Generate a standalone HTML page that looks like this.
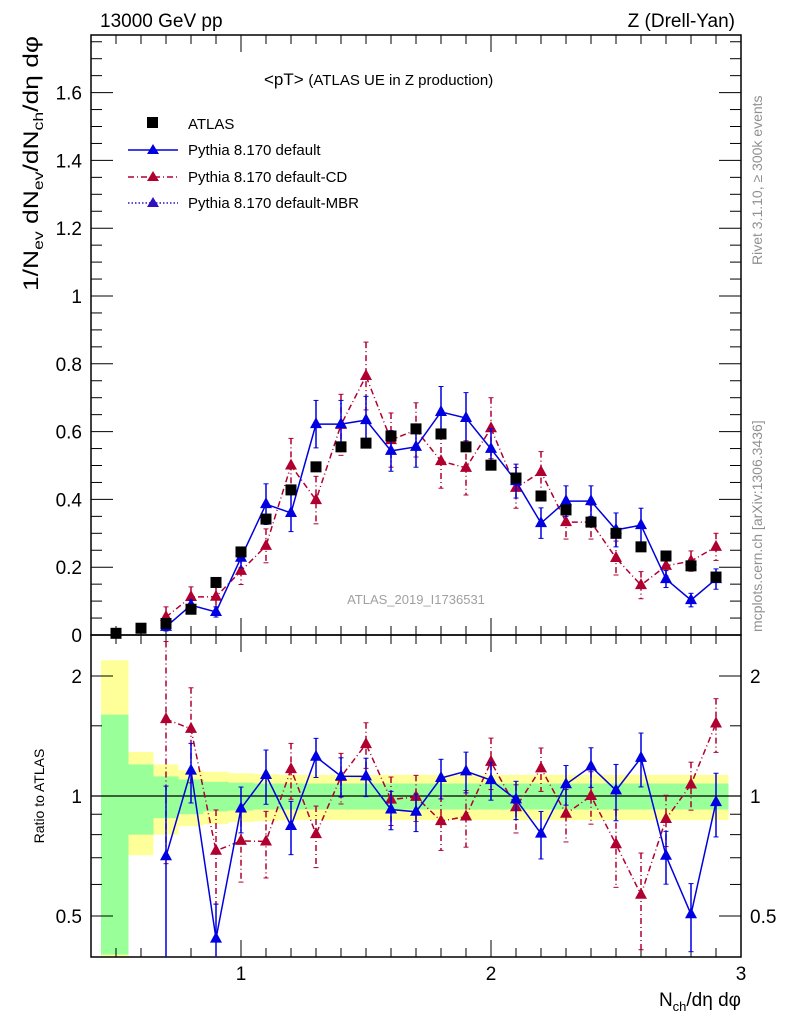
<!DOCTYPE html>
<html><head><meta charset="utf-8"><style>
html,body{margin:0;padding:0;background:#fff;}
svg{display:block;font-family:"Liberation Sans","DejaVu Sans",sans-serif;}
</style></head><body>
<svg id="chart" width="786" height="1024" xmlns="http://www.w3.org/2000/svg">
<g id="bands"></g>
<g id="axes"></g>
<g id="marks"></g>
<text x="100" y="27" font-size="19">13000 GeV pp</text>
<text x="735" y="27" font-size="19" text-anchor="end">Z (Drell-Yan)</text>
<text x="264" y="85" font-size="17">&lt;pT&gt; <tspan font-size="15">(ATLAS UE in Z production)</tspan></text>
<text x="416" y="604" font-size="13" fill="#a0a0a0" text-anchor="middle">ATLAS_2019_I1736531</text>
<text transform="translate(762,265) rotate(-90)" font-size="14" fill="#909090">Rivet 3.1.10, ≥ 300k events</text>
<text transform="translate(762,632) rotate(-90)" font-size="14" fill="#909090">mcplots.cern.ch [arXiv:1306.3436]</text>
<text transform="translate(38,36) rotate(-90)" font-size="21" text-anchor="end" textLength="255" lengthAdjust="spacingAndGlyphs">1/N<tspan font-size="14" dy="5">ev</tspan><tspan dy="-5"> dN</tspan><tspan font-size="14" dy="5">ev</tspan><tspan dy="-5">/dN</tspan><tspan font-size="14" dy="5">ch</tspan><tspan dy="-5">/dη dφ</tspan></text>
<text transform="translate(44,796) rotate(-90)" font-size="14" text-anchor="middle">Ratio to ATLAS</text>
<text x="741" y="1006" font-size="19" text-anchor="end">N<tspan font-size="13" dy="5">ch</tspan><tspan dy="-5">/dη dφ</tspan></text>
<g>
<rect x="147" y="117" width="11" height="11" fill="#000"/>
<text x="188" y="129" font-size="15">ATLAS</text>
<line x1="128" y1="150" x2="178" y2="150" stroke="#0000e0" stroke-width="1.5"/>
<polygon points="153,144 147,154 159,154" fill="#0000e0"/>
<text x="188" y="155" font-size="15">Pythia 8.170 default</text>
<line x1="128" y1="177" x2="178" y2="177" stroke="#b00030" stroke-width="1.5" stroke-dasharray="6,3,1,3"/>
<polygon points="153,171 147,181 159,181" fill="#b00030"/>
<text x="188" y="182" font-size="15">Pythia 8.170 default-CD</text>
<line x1="128" y1="203" x2="178" y2="203" stroke="#3010c0" stroke-width="1.5" stroke-dasharray="1.5,2"/>
<polygon points="153,197 147,207 159,207" fill="#3010c0"/>
<text x="188" y="208" font-size="15">Pythia 8.170 default-MBR</text>
</g>
</svg>
<script>
const xCats=[0.5,0.6,0.7,0.8,0.9,1.0,1.1,1.2,1.3,1.4,1.5,1.6,1.7,1.8,1.9,2.0,2.1,2.2,2.3,2.4,2.5,2.6,2.7,2.8,2.9];
const atlasVals=[0.005,0.02,0.034,0.076,0.155,0.245,0.342,0.428,0.496,0.555,0.566,0.587,0.608,0.593,0.555,0.501,0.463,0.41,0.369,0.333,0.3,0.26,0.233,0.204,0.171];
const atlasStatRel=[0.6,0.2,0.12,0.1,0.085,0.08,0.075,0.075,0.075,0.075,0.075,0.075,0.075,0.075,0.075,0.075,0.075,0.075,0.075,0.075,0.075,0.075,0.075,0.075,0.075];
const atlasTotRel=[1.19,0.29,0.2,0.16,0.15,0.14,0.135,0.13,0.13,0.13,0.13,0.13,0.13,0.13,0.13,0.13,0.13,0.13,0.13,0.13,0.13,0.13,0.13,0.13,0.13];
const mcCats=[0.7,0.8,0.9,1.0,1.1,1.2,1.3,1.4,1.5,1.6,1.7,1.8,1.9,2.0,2.1,2.2,2.3,2.4,2.5,2.6,2.7,2.8,2.9];
const defVals=[0.024,0.088,0.068,0.228,0.386,0.36,0.622,0.622,0.634,0.543,0.555,0.658,0.64,0.549,0.454,0.33,0.395,0.395,0.31,0.324,0.165,0.103,0.165];
const defErrs=[0.012,0.015,0.015,0.03,0.06,0.055,0.07,0.07,0.07,0.06,0.06,0.075,0.075,0.06,0.05,0.045,0.045,0.045,0.05,0.05,0.025,0.02,0.03];
const cdVals=[0.053,0.112,0.113,0.189,0.263,0.5,0.398,0.62,0.764,0.575,0.605,0.513,0.493,0.61,0.434,0.481,0.333,0.333,0.227,0.147,0.204,0.218,0.26];
const cdErrs=[0.03,0.03,0.03,0.04,0.05,0.08,0.07,0.09,0.1,0.08,0.08,0.08,0.08,0.09,0.06,0.06,0.05,0.05,0.05,0.04,0.03,0.03,0.04];
const yTicks=[0,0.2,0.4,0.6,0.8,1,1.2,1.4,1.6];
const yTickLabels=["0","0.2","0.4","0.6","0.8","1","1.2","1.4","1.6"];
const xTicks=[1,2,3];
const xTickLabels=["1","2","3"];
const rTicks=[0.5,1,2];
const rTickLabels=["0.5","1","2"];

const NS="http://www.w3.org/2000/svg";
const L=91,R=741,T=35,M=635,B=957;
const X=v=>L+(v-0.4)*250;
const Y=v=>M-v*339;
const RY=v=>{let y=796-Math.log2(v)*120;return Math.max(M,Math.min(B,y));};
function el(parent,tag,attrs){const e=document.createElementNS(NS,tag);for(const k in attrs)e.setAttribute(k,attrs[k]);parent.appendChild(e);return e;}
const axes=document.getElementById('axes'),marks=document.getElementById('marks'),bands=document.getElementById('bands');

xCats.forEach((c,i)=>{
  const x0=X(c-0.05),x1=X(c+0.05);
  const xa=i===0?X(0.44):x0;
  let r=el(bands,'rect',{x:xa,y:RY(1+atlasTotRel[i]),width:x1-xa,height:RY(Math.max(1e-3,1-atlasTotRel[i]))-RY(1+atlasTotRel[i]),fill:'#ffff99'});
  
  
  let g=el(bands,'rect',{x:xa,y:RY(1+atlasStatRel[i]),width:x1-xa,height:RY(Math.max(1e-3,1-atlasStatRel[i]))-RY(1+atlasStatRel[i]),fill:'#99ff99'});
  
  
});

el(axes,'rect',{x:L,y:T,width:R-L,height:M-T,fill:'none',stroke:'#000','stroke-width':1.5});
el(axes,'rect',{x:L,y:M,width:R-L,height:B-M,fill:'none',stroke:'#000','stroke-width':1.5});
el(axes,'line',{x1:L,x2:R,y1:RY(1),y2:RY(1),stroke:'#000','stroke-width':1.3});
for(let k=5;k<=29;k++){const v=k/10;const maj=(k%10===0);const x=X(v);
  [[T,1],[M,-1],[M,1],[B,-1]].forEach(([y0,d])=>{el(axes,'line',{x1:x,x2:x,y1:y0,y2:y0+d*(maj?17:9),stroke:'#000','stroke-width':1});});}
xTicks.forEach((v,i)=>{const t=el(axes,'text',{x:X(v),y:980,'font-size':19,'text-anchor':'middle'});t.textContent=xTickLabels[i];
  
  });
for(let k=0;k<=35;k++){const v=k*0.05;const y=Y(v);if(y<T)break;const maj=(k%4===0);
  el(axes,'line',{x1:L,x2:L+(maj?22:11),y1:y,y2:y,stroke:'#000'});el(axes,'line',{x1:R,x2:R-(maj?22:11),y1:y,y2:y,stroke:'#000'});}
yTicks.forEach((v,i)=>{const t=el(axes,'text',{x:82,y:Y(v)+7,'font-size':19,'text-anchor':'end'});t.textContent=yTickLabels[i];
  
  });
[0.5,0.6,0.7,0.8,0.9,1,1.5,2].forEach(v=>{const maj=rTicks.includes(v);const y=RY(v);
  el(axes,'line',{x1:L,x2:L+(maj?22:11),y1:y,y2:y,stroke:'#000'});el(axes,'line',{x1:R,x2:R-(maj?22:11),y1:y,y2:y,stroke:'#000'});});
rTicks.forEach((v,i)=>{
  const t=el(axes,'text',{x:82,y:RY(v)+7,'font-size':19,'text-anchor':'end'});t.textContent=rTickLabels[i];
  
  
  const t2=el(axes,'text',{x:750,y:RY(v)+7,'font-size':19});t2.textContent=rTickLabels[i];
  
  });

function tri(g,x,y,c){return el(g,'polygon',{points:`${x},${y-7} ${x-6},${y+4} ${x+6},${y+4}`,fill:c});}
function series(vals,errs,color,dash,name){
  const gm=el(marks,'g',{});
  
  
  const clip=(y,top,bot)=>Math.max(top,Math.min(bot,y));
  let pts=mcCats.map((c,i)=>`${X(c)},${Y(vals[i])}`).join(' ');
  el(gm,'polyline',{points:pts,fill:'none',stroke:color,'stroke-width':1.5,'stroke-dasharray':dash});
  const rat=mcCats.map((c,i)=>vals[i]/atlasVals[xCats.indexOf(c)]);
  pts=mcCats.map((c,i)=>`${X(c)},${RY(rat[i])}`).join(' ');
  el(gm,'polyline',{points:pts,fill:'none',stroke:color,'stroke-width':1.5,'stroke-dasharray':dash});
  mcCats.forEach((c,i)=>{const x=X(c);
    const y1=clip(Y(vals[i]+errs[i]),T,M),y2=clip(Y(vals[i]-errs[i]),T,M);
    el(gm,'line',{x1:x,x2:x,y1:y1,y2:y2,stroke:color,'stroke-width':1.5,'stroke-dasharray':dash});
    el(gm,'line',{x1:x-2.5,x2:x+2.5,y1:y1,y2:y1,stroke:color});el(gm,'line',{x1:x-2.5,x2:x+2.5,y1:y2,y2:y2,stroke:color});
    const m=tri(gm,x,Y(vals[i]),color);
    
    
    const a=atlasVals[xCats.indexOf(c)];const re=errs[i]/a;
    const r1=RY(rat[i]+re),r2=RY(Math.max(1e-3,rat[i]-re));
    el(gm,'line',{x1:x,x2:x,y1:r1,y2:r2,stroke:color,'stroke-width':1.5,'stroke-dasharray':dash});
    if(r1>M)el(gm,'line',{x1:x-2.5,x2:x+2.5,y1:r1,y2:r1,stroke:color});
    if(r2<B)el(gm,'line',{x1:x-2.5,x2:x+2.5,y1:r2,y2:r2,stroke:color});
    const rm=tri(gm,x,RY(rat[i]),color);
    
    
  });
}
series(cdVals,cdErrs,'#b00030','6,3,1,3','series-pythia-cd');
series(defVals,defErrs,'#0000e0','none','series-pythia-default');
xCats.forEach((c,i)=>{const s=el(marks,'rect',{x:X(c)-5.5,y:Y(atlasVals[i])-5.5,width:11,height:11,fill:'#000'});
  
  });
</script>
</body></html>
